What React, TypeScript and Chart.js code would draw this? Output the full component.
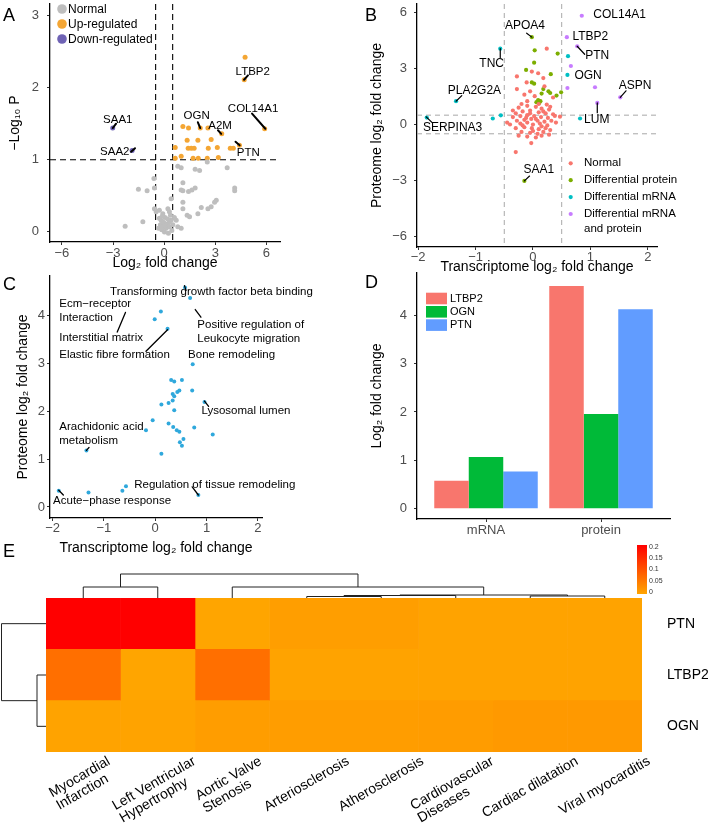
import React, { useEffect, useRef } from 'react';
import { Chart, registerables } from 'chart.js';

Chart.register(...registerables);

const FONT = "'Liberation Sans', Arimo, Arial, 'DejaVu Sans', sans-serif";
const TICK_COLOR = '#4D4D4D';

type Pt = [number, number];
type Seg = [Pt, Pt];
type Lbl = { text: string[]; at: Pt };

// ---------------- Panel A : volcano ----------------
const aNormal: Pt[] = [
  [0.8, 0.91], [1.82, 0.87], [2.08, 0.85], [2.53, 0.97], [3.7, 0.89], [1.0, 0.89], [-0.6, 0.74], [-1.51, 0.59],
  [-1.0, 0.57], [-0.57, 0.61], [1.0, 0.58], [1.1, 0.68], [1.1, 0.57], [1.43, 0.56], [1.63, 0.58], [1.82, 0.61],
  [4.14, 0.61], [4.14, 0.57], [0.41, 0.46], [1.1, 0.41], [1.1, 0.32], [3.06, 0.44], [2.76, 0.35], [2.57, 0.32],
  [2.96, 0.41], [2.18, 0.34], [1.98, 0.25], [1.35, 0.23], [1.49, 0.21], [-0.57, 0.32], [-0.47, 0.28], [-0.28, 0.3],
  [-0.08, 0.25], [0.22, 0.32], [0.31, 0.28], [0.37, 0.23], [-0.28, 0.19], [-0.18, 0.16], [-0.08, 0.14], [0.02, 0.12],
  [0.12, 0.1], [0.22, 0.11], [0.31, 0.14], [0.41, 0.16], [-0.22, 0.1], [-0.08, 0.07], [0.12, 0.05], [0.31, 0.07],
  [0.51, 0.1], [-0.33, 0.05], [-0.14, 0.03], [0.71, 0.16], [0.8, 0.07], [1.0, 0.05], [-2.29, 0.08], [-1.25, 0.14],
  [0.05, 0.2], [0.2, 0.18], [-0.1, 0.22], [0.45, 0.02], [0.6, 0.2], [0.02, 0.0], [0.25, -0.02],
];
const aUp: Pt[] = [
  [4.75, 2.42], [4.7, 2.11], [5.9, 1.43], [1.1, 1.46], [1.43, 1.44], [2.12, 1.44], [2.57, 1.44], [3.38, 1.36],
  [1.35, 1.27], [1.98, 1.27], [2.76, 1.28], [0.65, 1.17], [1.41, 1.16], [1.59, 1.16], [1.76, 1.16], [2.59, 1.16],
  [3.12, 1.17], [3.88, 1.16], [4.06, 1.16], [4.42, 1.2], [1.0, 1.05], [1.7, 1.02], [2.0, 1.02], [2.53, 1.02],
  [3.18, 1.03], [0.65, 1.02],
];
const aDown: Pt[] = [[-3.02, 1.44], [-1.88, 1.13]];
const aXTicks = [-6, -3, 0, 3, 6];
const aYTicks = [0, 1, 2, 3];
const aFoldCut = [-0.5, 0.5];
const aPCut = [1];
const aLabels: Lbl[] = [
  { text: ['LTBP2'], at: [5.2, 2.22] },
  { text: ['COL14A1'], at: [5.22, 1.71] },
  { text: ['OGN'], at: [1.91, 1.61] },
  { text: ['A2M'], at: [3.28, 1.47] },
  { text: ['PTN'], at: [4.94, 1.09] },
  { text: ['SAA1'], at: [-2.72, 1.56] },
  { text: ['SAA2'], at: [-2.9, 1.11] },
];
const aSegments: Seg[] = [
  [[4.69, 2.11], [4.92, 2.17]],
  [[5.16, 1.64], [5.94, 1.43]],
  [[1.98, 1.52], [2.12, 1.44]],
  [[3.16, 1.41], [3.35, 1.36]],
  [[4.19, 1.25], [4.43, 1.2]],
  [[-3.02, 1.44], [-2.82, 1.5]],
  [[-1.94, 1.11], [-1.71, 1.16]],
];

// ---------------- Panel B : transcriptome vs proteome ----------------
const bNormal: Pt[] = [
  [0.24, 4.07], [-0.28, 2.58], [-0.28, 1.9], [-0.02, 2.84], [0.09, 2.75], [-0.11, 2.26], [0.18, 2.49], [-0.05, 1.78],
  [0.03, 1.52], [0.2, 2.05], [-0.15, 1.6], [0.35, 1.45], [-0.1, 1.25], [0.24, 1.07], [0.3, 0.95], [-0.25, 0.9],
  [-0.1, 1.0], [0.05, 0.95], [0.15, 0.85], [0.28, 0.8], [-0.3, 0.6], [-0.18, 0.7], [-0.05, 0.75], [0.1, 0.65],
  [0.22, 0.6], [0.35, 0.55], [-0.35, 0.4], [-0.22, 0.45], [-0.1, 0.5], [0.02, 0.45], [0.14, 0.4], [0.26, 0.35],
  [-0.28, 0.2], [-0.15, 0.25], [-0.03, 0.3], [0.08, 0.2], [0.2, 0.15], [0.32, 0.2], [-0.4, 0.0], [-0.22, 0.05],
  [-0.1, 0.1], [0.0, 0.0], [0.12, 0.05], [0.25, -0.05], [-0.3, -0.2], [-0.15, -0.15], [-0.02, -0.2], [0.1, -0.25],
  [0.22, -0.2], [-0.2, -0.4], [-0.05, -0.45], [0.08, -0.5], [0.18, -0.4], [-0.1, -0.65], [0.05, -0.7], [0.15, -0.6],
  [-0.03, -1.0], [-0.3, -1.48], [0.38, 0.46], [0.47, 0.42], [-0.45, 0.1], [0.3, -0.3], [0.4, 0.1], [-0.35, 0.75],
  [-0.2, 1.1], [0.1, 1.1], [-0.05, 0.6], [0.05, 0.3], [-0.18, -0.05], [0.15, -0.1], [0.0, -0.35], [-0.12, 0.35],
  [0.18, 0.7], [-0.25, -0.6], [0.28, -0.55],
];
const bProtein: Pt[] = [
  [-0.02, 4.69], [0.03, 3.98], [0.43, 3.81], [0.02, 3.32], [-0.12, 2.93], [0.31, 2.7], [-0.02, 2.26], [0.02, 2.19],
  [0.18, 1.9], [0.27, 1.78], [0.3, 1.69], [0.15, 1.66], [0.41, 1.55], [0.49, 1.73], [0.09, 1.31], [0.13, 1.25],
  [0.11, 1.16], [0.06, 1.2], [-0.15, -3.03],
];
const bMrna: Pt[] = [
  [-0.57, 4.07], [0.61, 3.67], [0.6, 2.66], [-1.34, 1.25], [-1.85, 0.37], [-0.7, 0.32], [-0.56, 0.49], [0.82, 0.32],
];
const bBoth: Pt[] = [
  [0.85, 5.84], [0.59, 4.69], [0.77, 4.2], [0.66, 3.14], [0.6, 1.96], [1.08, 2.0], [1.52, 1.46], [1.12, 1.16],
];
const bXTicks = [-2, -1, 0, 1, 2];
const bYTicks = [-6, -3, 0, 3, 6];
const bXCut = [-0.5, 0.5];
const bYCut = [-0.5, 0.5];
const bLabels: Lbl[] = [
  { text: ['COL14A1'], at: [1.51, 5.89] },
  { text: ['APOA4'], at: [-0.14, 5.31] },
  { text: ['LTBP2'], at: [1.0, 4.69] },
  { text: ['PTN'], at: [1.12, 3.69] },
  { text: ['TNC'], at: [-0.72, 3.28] },
  { text: ['OGN'], at: [0.96, 2.61] },
  { text: ['ASPN'], at: [1.78, 2.08] },
  { text: ['PLA2G2A'], at: [-1.02, 1.84] },
  { text: ['LUM'], at: [1.11, 0.25] },
  { text: ['SERPINA3'], at: [-1.4, -0.16] },
  { text: ['SAA1'], at: [0.1, -2.42] },
];
const bSegments: Seg[] = [
  [[-0.11, 4.9], [-0.02, 4.69]],
  [[-0.57, 4.07], [-0.57, 3.6]],
  [[0.77, 4.2], [0.9, 3.77]],
  [[1.52, 1.46], [1.62, 1.81]],
  [[1.12, 1.16], [1.12, 0.63]],
  [[-1.34, 1.25], [-1.24, 1.55]],
  [[-1.86, 0.41], [-1.76, 0.11]],
  [[-0.15, -3.03], [-0.06, -2.77]],
];

// ---------------- Panel C : pathways ----------------
const cPoints: Pt[] = [
  [0.58, 4.58], [0.68, 4.36], [0.11, 4.08], [-0.01, 3.92], [0.24, 3.72], [0.73, 2.98], [0.31, 2.65], [0.37, 2.62],
  [0.52, 2.65], [0.47, 2.43], [0.43, 2.4], [0.34, 2.36], [0.37, 2.31], [0.72, 2.43], [0.12, 2.14], [0.26, 2.17],
  [0.34, 2.22], [0.37, 2.02], [0.96, 2.19], [-0.05, 1.81], [-0.18, 1.6], [0.26, 1.74], [0.35, 1.67], [0.42, 1.6],
  [0.47, 1.57], [0.76, 1.66], [1.12, 1.51], [0.55, 1.42], [0.48, 1.35], [0.52, 1.28], [0.12, 1.11], [-1.34, 1.18],
  [-0.57, 0.43], [-0.64, 0.34], [-1.3, 0.3], [-1.88, 0.34], [0.84, 0.25],
];
const cXTicks = [-2, -1, 0, 1, 2];
const cYTicks = [0, 1, 2, 3, 4];
const cLabels: Lbl[] = [
  { text: ['Transforming growth factor beta binding'], at: [-0.88, 4.49] },
  { text: ['Ecm\u2212receptor', 'Interaction'], at: [-1.87, 4.23] },
  { text: ['Interstitial matrix'], at: [-1.87, 3.53] },
  { text: ['Elastic fibre formation'], at: [-1.87, 3.18] },
  { text: ['Positive regulation of', 'Leukocyte migration'], at: [0.82, 3.81] },
  { text: ['Bone remodeling'], at: [0.64, 3.18] },
  { text: ['Lysosomal lumen'], at: [0.9, 2.0] },
  { text: ['Arachidonic acid', 'metabolism'], at: [-1.87, 1.67] },
  { text: ['Regulation of tissue remodeling'], at: [-0.41, 0.47] },
  { text: ['Acute\u2212phase response'], at: [-1.99, 0.12] },
];
const cSegments: Seg[] = [
  [[0.57, 4.62], [0.6, 4.52]],
  [[-0.58, 4.06], [-0.74, 3.65]],
  [[0.24, 3.7], [-0.18, 3.25]],
  [[0.78, 4.12], [0.89, 3.96]],
  [[0.96, 2.21], [1.04, 2.1]],
  [[-1.34, 1.18], [-1.29, 1.24]],
  [[0.72, 0.42], [0.84, 0.25]],
  [[-1.88, 0.35], [-1.79, 0.25]],
];

// ---------------- Panel D : bars ----------------
const dGroups = ['mRNA', 'protein'];
const dLTBP2 = [0.58, 4.6];
const dOGN = [1.07, 1.96];
const dPTN = [0.77, 4.12];
const dYTicks = [0, 1, 2, 3, 4];

// ---------------- Panel E : heatmap ----------------
const eRows = ['PTN', 'LTBP2', 'OGN'];
const eCols = [
  'Myocardial\nInfarction', 'Left Ventricular\nHypertrophy', 'Aortic Valve\nStenosis', 'Arteriosclerosis',
  'Atherosclerosis', 'Cardiovascular\nDiseases', 'Cardiac dilatation', 'Viral myocarditis',
];
const ePTN = [0.2, 0.2, 0.0, 0.008, 0.008, 0.003, 0.003, 0.003];
const eLTBP2 = [0.065, 0.0, 0.065, 0.003, 0.003, 0.003, 0.003, 0.003];
const eOGN = [0.003, 0.003, 0.01, 0.01, 0.01, 0.011, 0.015, 0.015];
const eColorTicks = [0, 0.05, 0.1, 0.15, 0.2];
// hclust style merges: negative = leaf (1-based), positive = earlier merge (1-based); third = height
const eColMerges: [number, number, number][] = [
  [-4, -5, 1.5], [1, -6, 2.5], [-7, -8, 2], [2, 3, 3], [-1, -2, 11], [-3, 4, 11], [5, 6, 24],
];
const eRowMerges: [number, number, number][] = [[-2, -3, 9], [-1, 1, 44.5]];

// ---------------- helpers ----------------
const fmt = (v: number) => (v < 0 ? '\u2212' + Math.abs(v) : String(v));
const toXY = (pts: Pt[]) => pts.map(([x, y]) => ({ x, y }));

interface AxisOpt {
  min: number; max: number; ticks: number[]; size: number; vertical: boolean;
  title?: string; titlePad?: any; tickPad?: number; tickLen?: number; labels?: string[];
}
function axis(o: AxisOpt): any {
  return {
    type: 'linear',
    min: o.min,
    max: o.max,
    offset: false,
    afterBuildTicks: (s: any) => { s.ticks = o.ticks.map((v) => ({ value: v })); },
    afterFit: (s: any) => {
      if (o.vertical) s.width = o.size; else s.height = o.size;
      s.paddingTop = 0; s.paddingBottom = 0; s.paddingLeft = 0; s.paddingRight = 0;
    },
    grid: { display: true, drawOnChartArea: false, drawTicks: true, tickLength: o.tickLen ?? 3, color: '#333', lineWidth: 1, offset: false },
    border: { display: true, color: '#000', width: 1.3 },
    ticks: {
      color: TICK_COLOR, font: { family: FONT, size: 13 }, padding: o.tickPad ?? 2, maxRotation: 0, autoSkip: false,
      callback: (v: any, i: number) => (o.labels ? o.labels[i] : fmt(v)),
    },
    title: o.title
      ? { display: true, text: o.title, color: '#000', font: { family: FONT, size: 14 }, padding: o.titlePad ?? 0 }
      : { display: false },
  };
}

function P(chart: any, p: Pt): [number, number] {
  return [chart.scales.x.getPixelForValue(p[0]), chart.scales.y.getPixelForValue(p[1])];
}
function drawCuts(chart: any, vx: number[], hy: number[], color: string, dash: number[], w: number) {
  const { ctx, chartArea: a } = chart;
  ctx.save();
  ctx.strokeStyle = color; ctx.lineWidth = w; ctx.setLineDash(dash);
  vx.forEach((v) => { const x = chart.scales.x.getPixelForValue(v); ctx.beginPath(); ctx.moveTo(x, a.top); ctx.lineTo(x, a.bottom); ctx.stroke(); });
  hy.forEach((v) => { const y = chart.scales.y.getPixelForValue(v); ctx.beginPath(); ctx.moveTo(a.left, y); ctx.lineTo(a.right, y); ctx.stroke(); });
  ctx.restore();
}
function drawSegs(chart: any, segs: Seg[], w: number) {
  const ctx = chart.ctx;
  ctx.save(); ctx.strokeStyle = '#000'; ctx.lineWidth = w; ctx.lineCap = 'round';
  segs.forEach(([p, q]) => { const a = P(chart, p); const b = P(chart, q); ctx.beginPath(); ctx.moveTo(a[0], a[1]); ctx.lineTo(b[0], b[1]); ctx.stroke(); });
  ctx.restore();
}
function drawLabels(chart: any, labels: Lbl[], align: CanvasTextAlign, size: number, lh: number) {
  const ctx = chart.ctx;
  ctx.save(); ctx.fillStyle = '#000'; ctx.font = `${size}px ${FONT}`; ctx.textAlign = align; ctx.textBaseline = 'middle';
  labels.forEach((l) => { const [x, y] = P(chart, l.at); l.text.forEach((t, i) => ctx.fillText(t, x, y + i * lh)); });
  ctx.restore();
}

const baseOpts = {
  animation: false as const, responsive: false, events: [] as any[],
  plugins: { legend: { display: false }, tooltip: { enabled: false } },
};

// ---------------- chart configs ----------------
function makeA(): any {
  return {
    type: 'scatter',
    data: {
      datasets: [
        { label: 'Normal', data: toXY(aNormal), backgroundColor: '#BEBEBE', pointRadius: 2.5, borderWidth: 0 },
        { label: 'Up-regulated', data: toXY(aUp), backgroundColor: '#F4A634', pointRadius: 2.5, borderWidth: 0 },
        { label: 'Down-regulated', data: toXY(aDown), backgroundColor: '#6F63B5', pointRadius: 2.5, borderWidth: 0 },
      ],
    },
    options: {
      ...baseOpts,
      layout: { padding: { left: 0, top: 0, right: 20, bottom: 0 } },
      scales: {
        x: axis({ min: -6.7, max: 6.8, ticks: aXTicks, size: 30, vertical: false, title: 'Log\u2082 fold change', titlePad: { top: 0, bottom: 0 }, tickPad: 1 }),
        y: axis({ min: -0.14, max: 3.16, ticks: aYTicks, size: 50, vertical: true, title: '\u2212Log\u2081\u2080 P', titlePad: { top: 6.6, bottom: 0 }, tickPad: 8 }),
      },
    },
    plugins: [{
      id: 'annA',
      beforeDatasetsDraw(chart: any) { drawCuts(chart, aFoldCut, aPCut, '#000', [6, 4], 1.1); },
      afterDraw(chart: any) {
        drawSegs(chart, aSegments, 2);
        drawLabels(chart, aLabels, 'center', 11.5, 13);
        const ctx = chart.ctx;
        ctx.save();
        chart.data.datasets.forEach((ds: any, i: number) => {
          const y = 9 + i * 15;
          ctx.beginPath(); ctx.arc(62, y, 4.8, 0, Math.PI * 2); ctx.fillStyle = ds.backgroundColor; ctx.fill();
          ctx.fillStyle = '#000'; ctx.font = `12px ${FONT}`; ctx.textAlign = 'left'; ctx.textBaseline = 'middle';
          ctx.fillText(ds.label, 68, y + 0.5);
        });
        ctx.restore();
      },
    }],
  };
}

function makeB(): any {
  const pr = 2.1;
  return {
    type: 'scatter',
    data: {
      datasets: [
        { label: 'Normal', data: toXY(bNormal), backgroundColor: '#F8766D', pointRadius: pr, borderWidth: 0 },
        { label: 'Differential protein', data: toXY(bProtein), backgroundColor: '#7CAE00', pointRadius: pr, borderWidth: 0 },
        { label: 'Differential mRNA', data: toXY(bMrna), backgroundColor: '#00BFC4', pointRadius: pr, borderWidth: 0 },
        { label: 'Differential mRNA\nand protein', data: toXY(bBoth), backgroundColor: '#C77CFF', pointRadius: pr, borderWidth: 0 },
      ],
    },
    options: {
      ...baseOpts,
      layout: { padding: { left: 0, top: 0, right: 51, bottom: 0 } },
      scales: {
        x: axis({ min: -2.02, max: 2.16, ticks: bXTicks, size: 29, vertical: false, title: 'Transcriptome log\u2082 fold change', titlePad: { top: 0, bottom: 0.6 }, tickPad: 0 }),
        y: axis({ min: -6.58, max: 6.47, ticks: bYTicks, size: 87, vertical: true, title: 'Proteome log\u2082 fold change', titlePad: { top: 38.6, bottom: 0 }, tickPad: 7 }),
      },
    },
    plugins: [{
      id: 'annB',
      beforeDatasetsDraw(chart: any) { drawCuts(chart, bXCut, bYCut, '#A8A8A8', [5, 4], 1); },
      afterDraw(chart: any) {
        drawSegs(chart, bSegments, 1.2);
        drawLabels(chart, bLabels, 'center', 12, 13);
        const ctx = chart.ctx;
        ctx.save();
        chart.data.datasets.forEach((ds: any, i: number) => {
          const y = 163.3 + i * 16.9;
          ctx.beginPath(); ctx.arc(240.7, y, 2.1, 0, Math.PI * 2); ctx.fillStyle = ds.backgroundColor; ctx.fill();
          ctx.fillStyle = '#000'; ctx.font = `11.5px ${FONT}`; ctx.textAlign = 'left'; ctx.textBaseline = 'middle';
          String(ds.label).split('\n').forEach((t: string, j: number) => ctx.fillText(t, 254, y + j * 15));
        });
        ctx.restore();
      },
    }],
  };
}

function makeC(): any {
  return {
    type: 'scatter',
    data: { datasets: [{ label: 'Pathways', data: toXY(cPoints), backgroundColor: '#2FA8DC', pointRadius: 2, borderWidth: 0 }] },
    options: {
      ...baseOpts,
      layout: { padding: { left: 0, top: 1, right: 68, bottom: 0 } },
      scales: {
        x: axis({ min: -2.05, max: 2.08, ticks: cXTicks, size: 39, vertical: false, title: 'Transcriptome log\u2082 fold change', titlePad: { top: 0, bottom: 0.6 }, tickPad: 0 }),
        y: axis({ min: -0.23, max: 4.82, ticks: cYTicks, size: 50, vertical: true, title: 'Proteome log\u2082 fold change', titlePad: { top: 14.6, bottom: 0 }, tickPad: 2 }),
      },
    },
    plugins: [{
      id: 'annC',
      afterDraw(chart: any) {
        drawSegs(chart, cSegments, 1.3);
        drawLabels(chart, cLabels, 'left', 11.5, 14);
      },
    }],
  };
}

function makeD(): any {
  const series: [string, number[], string][] = [['LTBP2', dLTBP2, '#F8766D'], ['OGN', dOGN, '#00BA38'], ['PTN', dPTN, '#619CFF']];
  return {
    type: 'bar',
    data: {
      datasets: series.map(([label, vals, color]) => ({
        label, data: vals.map((v, i) => ({ x: i + 1, y: v })), backgroundColor: color, borderWidth: 0,
        categoryPercentage: 0.9, barPercentage: 1,
      })),
    },
    options: {
      ...baseOpts,
      layout: { padding: { left: 0, top: 1, right: 38, bottom: 0 } },
      scales: {
        x: axis({ min: 0.4, max: 2.6, ticks: dGroups.map((_, i) => i + 1), size: 38, vertical: false, labels: dGroups, tickPad: 1 }),
        y: axis({ min: -0.21, max: 4.87, ticks: dYTicks, size: 87, vertical: true, title: 'Log\u2082 fold change', titlePad: { top: 38.6, bottom: 0 }, tickPad: 7 }),
      },
    },
    plugins: [{
      id: 'legD',
      afterDraw(chart: any) {
        const ctx = chart.ctx;
        ctx.save();
        chart.data.datasets.forEach((ds: any, i: number) => {
          const y = 20.7 + i * 13.3;
          ctx.fillStyle = ds.backgroundColor; ctx.fillRect(96, y, 21, 11.6);
          ctx.fillStyle = '#000'; ctx.font = `11px ${FONT}`; ctx.textAlign = 'left'; ctx.textBaseline = 'middle';
          ctx.fillText(ds.label, 120, y + 6);
        });
        ctx.restore();
      },
    }],
  };
}

const HEAT_LOW = [255, 165, 0];
const HEAT_HIGH = [255, 0, 0];
const HEAT_MAX = 0.2;
function heatColor(v: number) {
  const t = Math.min(1, Math.max(0, v / HEAT_MAX));
  const c = HEAT_LOW.map((lo, i) => Math.round(lo + (HEAT_HIGH[i] - lo) * t));
  return `rgb(${c.join(',')})`;
}

function makeE(): any {
  const matrix = [ePTN, eLTBP2, eOGN];
  return {
    type: 'bar',
    data: {
      labels: eRows,
      datasets: eCols.map((name, ci) => ({
        label: name,
        data: eRows.map(() => 1),
        backgroundColor: matrix.map((row) => heatColor(row[ci])),
        borderWidth: 0, barPercentage: 1, categoryPercentage: 1,
      })),
    },
    options: {
      ...baseOpts,
      indexAxis: 'y',
      layout: { padding: { left: 46, top: 58, bottom: 75, right: 0 } },
      scales: {
        x: { type: 'linear', stacked: true, min: 0, max: eCols.length, display: false },
        y: {
          stacked: true, position: 'right',
          afterFit: (s: any) => { s.width = 66; s.paddingTop = 0; s.paddingBottom = 0; },
          grid: { display: false }, border: { display: false },
          ticks: { color: '#000', font: { family: FONT, size: 14 }, padding: 17 },
        },
      },
    },
    plugins: [{
      id: 'heatExtras',
      afterDraw(chart: any) {
        const { ctx, chartArea: a, scales: { x, y } } = chart;
        ctx.save();
        // column labels
        ctx.fillStyle = '#000'; ctx.font = `14px ${FONT}`; ctx.textAlign = 'left'; ctx.textBaseline = 'middle';
        const ang = (30 * Math.PI) / 180;
        eCols.forEach((name, i) => {
          const lines = name.split('\n');
          const W = Math.max(...lines.map((l) => ctx.measureText(l).width));
          const lh = 14.5;
          const H = lines.length * lh;
          const bh = W * Math.sin(ang) + H * Math.cos(ang);
          const cx = x.getPixelForValue(i + 0.5);
          const cy = a.bottom + 2 + bh / 2;
          ctx.save(); ctx.translate(cx, cy); ctx.rotate(-ang);
          lines.forEach((l, j) => ctx.fillText(l, -W / 2, -H / 2 + lh * (j + 0.5)));
          ctx.restore();
        });
        // dendrograms
        ctx.strokeStyle = '#222'; ctx.lineWidth = 1;
        const drawTree = (merges: [number, number, number][], leafPos: (i: number) => number, depth: number, horizontal: boolean) => {
          const maxH = Math.max(...merges.map((m) => m[2]));
          const k = depth / maxH;
          const nodes: { p: number; h: number }[] = [];
          const get = (id: number) => (id < 0 ? { p: leafPos(-id - 1), h: 0 } : nodes[id - 1]);
          const line = (p1: number, h1: number, p2: number, h2: number) => {
            ctx.beginPath();
            if (horizontal) { ctx.moveTo(p1, a.top - h1 * k); ctx.lineTo(p2, a.top - h2 * k); }
            else { ctx.moveTo(a.left - h1 * k, p1); ctx.lineTo(a.left - h2 * k, p2); }
            ctx.stroke();
          };
          merges.forEach(([l, r, h]) => {
            const A = get(l); const B = get(r);
            line(A.p, A.h, A.p, h); line(B.p, B.h, B.p, h); line(A.p, h, B.p, h);
            nodes.push({ p: (A.p + B.p) / 2, h });
          });
        };
        drawTree(eColMerges, (i) => x.getPixelForValue(i + 0.5), 24, true);
        drawTree(eRowMerges, (i) => y.getPixelForValue(i), 44.5, false);
        // colour bar
        const cbL = 637, cbR = 647, cbT = 5, cbB = 54;
        const g = ctx.createLinearGradient(0, cbT, 0, cbB);
        g.addColorStop(0, heatColor(HEAT_MAX)); g.addColorStop(1, heatColor(0));
        ctx.fillStyle = g; ctx.fillRect(cbL, cbT, cbR - cbL, cbB - cbT);
        ctx.fillStyle = '#333'; ctx.font = `7px ${FONT}`; ctx.textAlign = 'left'; ctx.textBaseline = 'middle';
        eColorTicks.forEach((v) => {
          const yy = cbB - 2 - (v / HEAT_MAX) * (cbB - cbT - 4);
          ctx.fillText(String(v), cbR + 2, yy);
        });
        ctx.restore();
      },
    }],
  };
}

function ChartCanvas({ left, top, width, height, make }: { left: number; top: number; width: number; height: number; make: () => any }) {
  const ref = useRef<HTMLCanvasElement>(null);
  useEffect(() => {
    const chart = new Chart(ref.current as HTMLCanvasElement, make());
    return () => chart.destroy();
  }, []);
  return <canvas ref={ref} width={width} height={height} style={{ position: 'absolute', left, top, width, height }} />;
}

const letterStyle = (left: number, top: number): React.CSSProperties => ({
  position: 'absolute', left, top, fontFamily: FONT, fontSize: 18, lineHeight: '18px', color: '#000',
});

export default function App() {
  useEffect(() => { document.body.style.margin = '0'; }, []);
  return (
    <div style={{ position: 'fixed', left: 0, top: 0, width: 708, height: 827, background: '#fff', overflow: 'hidden' }}>
      <ChartCanvas left={0} top={0} width={300} height={272} make={makeA} />
      <ChartCanvas left={330} top={0} width={378} height={276} make={makeB} />
      <ChartCanvas left={0} top={272} width={330} height={285} make={makeC} />
      <ChartCanvas left={330} top={272} width={378} height={285} make={makeD} />
      <ChartCanvas left={0} top={540} width={708} height={287} make={makeE} />
      <div style={letterStyle(3, 5.6)}>A</div>
      <div style={letterStyle(365, 5.6)}>B</div>
      <div style={letterStyle(3, 274.6)}>C</div>
      <div style={letterStyle(365, 272.6)}>D</div>
      <div style={letterStyle(3, 541.6)}>E</div>
    </div>
  );
}
